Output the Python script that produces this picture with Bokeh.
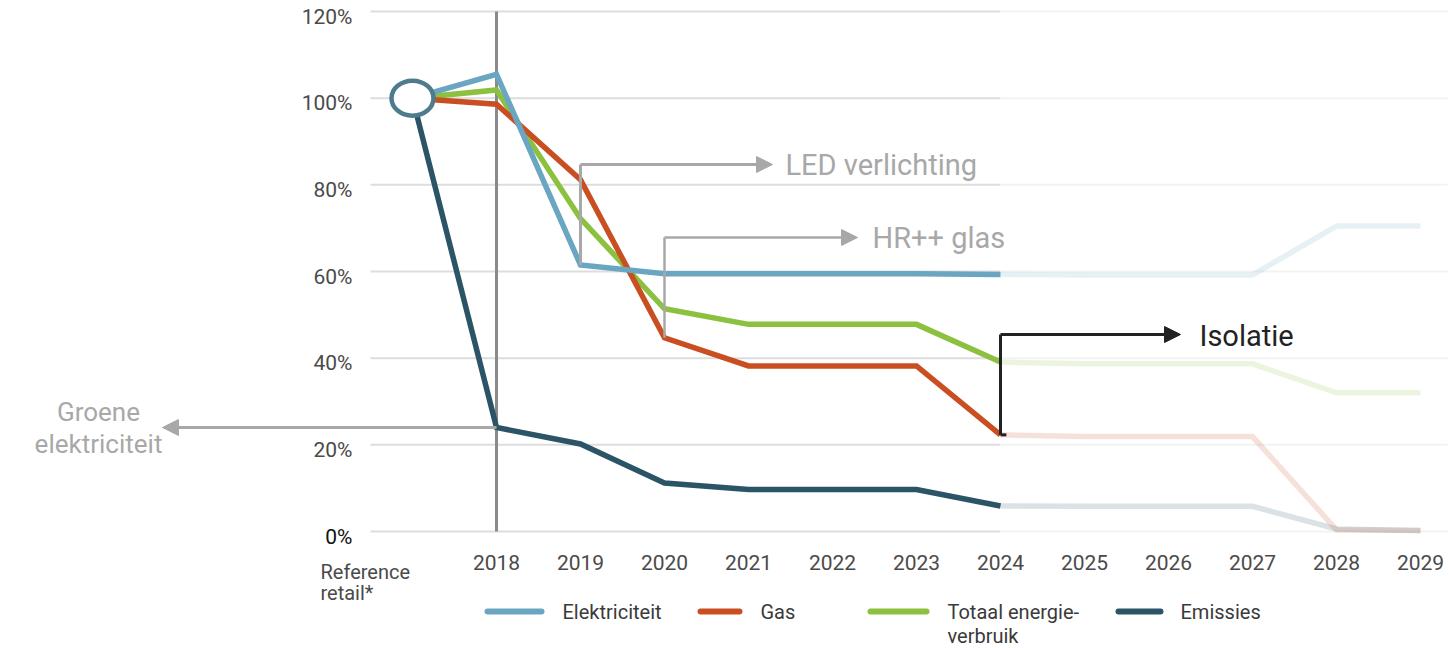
from bokeh.plotting import figure
from bokeh.models import Arrow, NormalHead, Range1d, ColumnDataSource
from bokeh.core.properties import value
from bokeh.embed import file_html
from bokeh.resources import INLINE

# ---------------- data ----------------
categories = ["Reference retail*", "2018", "2019", "2020", "2021", "2022", "2023",
              "2024", "2025", "2026", "2027", "2028", "2029"]
elektriciteit = [100, 105.5, 61.5, 59.5, 59.5, 59.5, 59.5, 59.3, 59.2, 59.2, 59.2, 70.5, 70.5]
gas = [100, 98.6, 81.2, 44.7, 38.2, 38.2, 38.2, 22.3, 21.9, 21.9, 21.9, 0.4, 0.3]
totaal = [100, 101.9, 72.2, 51.4, 47.8, 47.8, 47.8, 39.1, 38.7, 38.7, 38.7, 32.0, 32.0]
emissies = [100, 24.0, 20.2, 11.2, 9.7, 9.7, 9.7, 5.9, 5.8, 5.8, 5.8, 0.6, 0.2]
y_ticks = [0, 20, 40, 60, 80, 100, 120]
y_tick_labels = ["0%", "20%", "40%", "60%", "80%", "100%", "120%"]
series_names = ["Elektriciteit", "Gas", "Totaal energie-\nverbruik", "Emissies"]
series_colors = ["#6aa6c2", "#c94f22", "#8cc03f", "#2b5466"]
series_values = [elektriciteit, gas, totaal, emissies]

x_pos = list(range(len(categories)))
last_actual = categories.index("2024")
FONT = value("Roboto")

# ---------------- figure (frame = whole canvas) ----------------
PX = 84.0          # pixels per category step
PY = 520 / 120.0   # pixels per percent
X0, Y0 = 412, 531  # pixel position of (reference, 0 %)

def dx(px):
    return (px - X0) / PX

def dy(py):
    return (Y0 - py) / PY

p = figure(width=1449, height=648,
           x_range=Range1d(dx(0), dx(1449)), y_range=Range1d(dy(648), dy(0)),
           output_backend="svg", toolbar_location=None, min_border=0)
p.outline_line_color = None
p.xaxis.visible = False
p.yaxis.visible = False
p.xgrid.visible = False
p.ygrid.visible = False

# ---------------- grid + tick labels ----------------
x_left = dx(370)
x_split = x_pos[last_actual]
x_right = dx(1447)
n = len(y_ticks)
p.segment(x0=[x_left] * n, x1=[x_split] * n, y0=y_ticks, y1=y_ticks,
          line_color="#dddddd", line_width=2)
p.segment(x0=[x_split] * n, x1=[x_right] * n, y0=y_ticks, y1=y_ticks,
          line_color="#f3f3f3", line_width=2)

ysrc = ColumnDataSource(dict(x=[dx(352)] * n, y=y_ticks, t=y_tick_labels,
                             c=["#111111"] + ["#4a4a4a"] * (n - 1)))
p.text(x="x", y="y", text="t", text_color="c", source=ysrc, text_font=FONT,
       text_font_size="21px", text_align="right", text_baseline="middle", y_offset=5)

p.text(x=x_pos[1:], y=[dy(562)] * (len(x_pos) - 1), text=categories[1:],
       text_font=FONT, text_font_size="21px", text_color="#4a4a4a",
       text_align="center", text_baseline="middle")
ref_lines = categories[0].split(" ")
p.text(x=[dx(320)] * 2, y=[dy(571), dy(592)], text=ref_lines,
       text_font=FONT, text_font_size="20px", text_color="#4a4a4a",
       text_align="left", text_baseline="middle")

# vertical 2018 marker
p.segment(x0=[x_pos[1]], x1=[x_pos[1]], y0=[y_ticks[0]], y1=[y_ticks[-1]],
          line_color="#8a8a8a", line_width=3)

# ---------------- lines ----------------
for vals, col in zip(series_values, series_colors):
    p.line(x_pos[last_actual:], vals[last_actual:], line_color=col, line_alpha=0.17,
           line_width=5.5, line_join="miter")
for vals, col in list(zip(series_values, series_colors))[::-1]:
    p.line(x_pos[:last_actual + 1], vals[:last_actual + 1], line_color=col,
           line_width=5.5, line_join="miter")

# reference circle
p.ellipse(x=[x_pos[0]], y=[elektriciteit[0]], width=42 / PX, height=35 / PY,
          fill_color="white", line_color="#4e7b8e", line_width=4.5)

# ---------------- annotations ----------------
GRAY = "#a8a8a8"

def bracket(x0, y_from, y_top, x_tip, color, width):
    p.line([x0, x0], [y_from, y_top], line_color=color, line_width=width)
    p.add_layout(Arrow(x_start=x0, y_start=y_top, x_end=x_tip, y_end=y_top,
                       line_color=color, line_width=width,
                       end=NormalHead(size=16, fill_color=color, line_color=color)))

def txt(xs, ys, texts, color, size, align="left"):
    p.text(x=xs, y=ys, text=texts, text_color=color, text_font=FONT,
           text_font_size=size, text_align=align, text_baseline="middle")

# LED verlichting (from electricity 2019)
bracket(x_pos[2], elektriciteit[2], dy(164), dx(772), GRAY, 3)
txt([dx(785)], [dy(164)], ["LED verlichting"], GRAY, "29px")
# HR++ glas (from gas 2020)
bracket(x_pos[3], gas[3], dy(237), dx(857), GRAY, 2.5)
txt([dx(872)], [dy(237)], ["HR++ glas"], GRAY, "29px")
# Isolatie (from gas 2024)
bracket(x_pos[7], gas[7], dy(334), dx(1180), "#222222", 3)
p.line([x_pos[7], x_pos[7] + 0.07], [gas[7], gas[7]], line_color="#222222", line_width=3)
txt([dx(1199)], [dy(335)], ["Isolatie"], "#222222", "29px")
# Groene elektriciteit (from emissions 2018)
p.add_layout(Arrow(x_start=x_pos[1], y_start=emissies[1], x_end=dx(162), y_end=emissies[1],
                   line_color=GRAY, line_width=3,
                   end=NormalHead(size=16, fill_color=GRAY, line_color=GRAY)))
txt([dx(98), dx(98)], [dy(411), dy(443)], ["Groene", "elektriciteit"], GRAY, "26px", align="center")

# ---------------- legend ----------------
sw_start = [dx(v) for v in (487, 700, 870, 1118)]
sw_end = [dx(v) for v in (541, 739, 926, 1160)]
tx = [dx(v) for v in (562, 760, 947, 1180)]
leg_y = dy(611)
p.segment(x0=sw_start, x1=sw_end, y0=[leg_y] * 4, y1=[leg_y] * 4,
          line_color=series_colors, line_width=6, line_cap="round")
leg_text, leg_tx, leg_ty = [], [], []
for name, x in zip(series_names, tx):
    for k, part in enumerate(name.split("\n")):
        leg_text.append(part)
        leg_tx.append(x)
        leg_ty.append(leg_y - k * 24 / PY)
txt(leg_tx, leg_ty, leg_text, "#3a3a3a", "20px")

open("out.html", "w").write(file_html(p, INLINE))
